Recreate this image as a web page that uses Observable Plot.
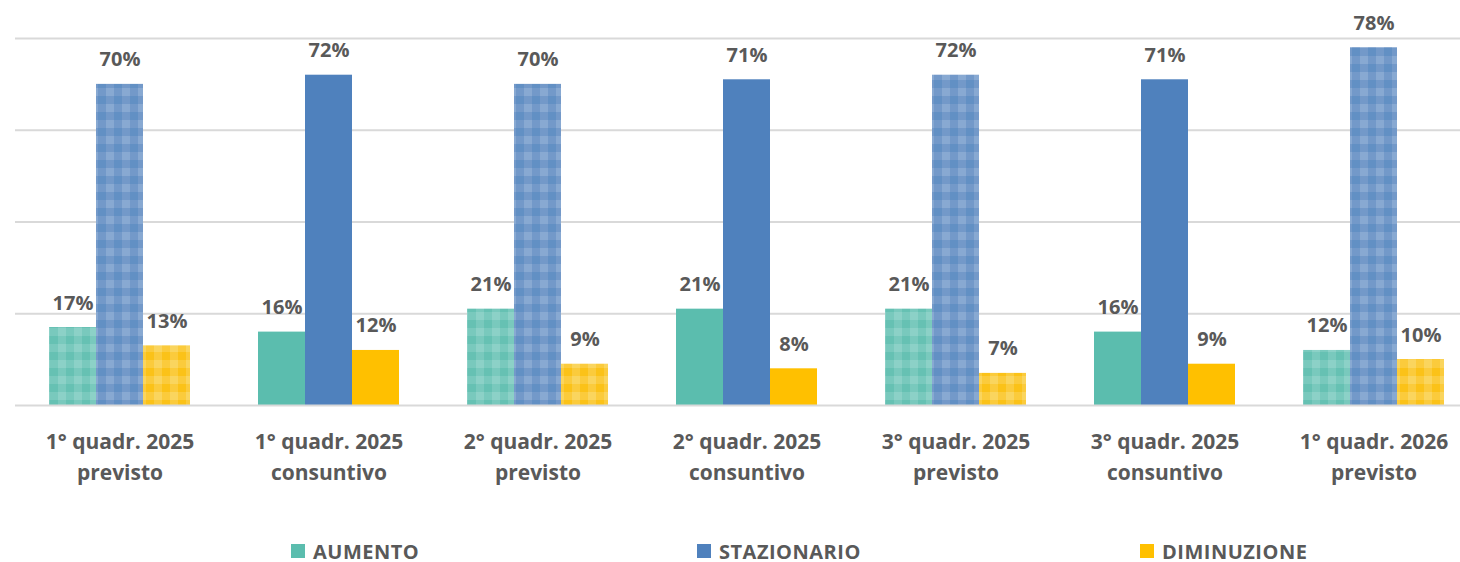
<!DOCTYPE html>
<html>
<head>
<meta charset="utf-8">
<script src="https://cdn.jsdelivr.net/npm/d3@7"></script>
<script src="https://cdn.jsdelivr.net/npm/@observablehq/plot@0.6"></script>
<style>
  html, body { margin: 0; padding: 0; background: #fff; }
  body { width: 1460px; height: 562px; overflow: hidden; font-family: "Open Sans", Lato, sans-serif; }
  #chart { width: 1480px; height: 530px; }
  #legend { position: relative; height: 32px; width: 1460px; }
  .item { position: absolute; top: 5px; height: 32px; display: flex; align-items: center; color: #595959; font-size: 20px; font-weight: bold; letter-spacing: 0.5px; }
  .sw { width: 14px; height: 14px; margin-right: 8px; }
</style>
</head>
<body>
<div id="chart"></div>
<div id="legend"></div>
<script>
const categories1 = ["1° quadr. 2025", "1° quadr. 2025", "2° quadr. 2025", "2° quadr. 2025", "3° quadr. 2025", "3° quadr. 2025", "1° quadr. 2026"];
const categories2 = ["previsto", "consuntivo", "previsto", "consuntivo", "previsto", "consuntivo", "previsto"];
const series = ["AUMENTO", "STAZIONARIO", "DIMINUZIONE"];
const aumento = [0.17, 0.16, 0.21, 0.21, 0.21, 0.16, 0.12];
const stazionario = [0.70, 0.72, 0.70, 0.71, 0.72, 0.71, 0.78];
const diminuzione = [0.13, 0.12, 0.09, 0.08, 0.07, 0.09, 0.10];
const yTicks = [0, 0.2, 0.4, 0.6, 0.8];

const solid = ["#5BBDAE", "#4F81BD", "#FFC000"];
// gingham shades: [darkest, medium, lightest]
const ging = [
  ["#66C1B3", "#79C9BD", "#8CD1C7"],
  ["#6290C4", "#7399C9", "#88A9D2"],
  ["#FBC218", "#FBCB3C", "#FAD55E"]
];

const values = [aumento, stazionario, diminuzione];
const keys = categories1.map((c, i) => c + "\n" + categories2[i]);
const rows = keys.flatMap((k, i) => series.map((s, j) => ({
  cat: k, series: s, value: values[j][i],
  fill: categories2[i] === "previsto" ? `url(#pat${j})` : solid[j]
})));

const chart = Plot.plot({
  width: 1480, height: 530,
  marginLeft: 13, marginRight: 0, marginTop: 38, marginBottom: 125,
  style: { fontFamily: "'Open Sans', Lato, sans-serif", background: "#fff" },
  fx: { domain: keys, padding: 0, label: null },
  x: { domain: series, paddingInner: 0, paddingOuter: 0.71, axis: null },
  y: { domain: [0, 0.8], axis: null },
  color: { type: "identity" },
  marks: [
    Plot.ruleY(yTicks.filter(d => d > 0), { stroke: "#d9d9d9", strokeWidth: 2 }),
    Plot.barY(rows, { fx: "cat", x: "series", y: "value", fill: "fill" }),
    Plot.ruleY([0], { stroke: "#d9d9d9", strokeWidth: 2 }),
    Plot.text(rows, {
      fx: "cat", x: "series", y: "value",
      text: d => Math.round(d.value * 100) + "%",
      lineAnchor: "bottom", dy: -18,
      fontSize: 20, fontWeight: "bold", fill: "#595959"
    }),
    Plot.axisFx({
      anchor: "bottom", tickSize: 0, tickPadding: 21, label: null,
      fontSize: 21, fontWeight: "bold", fill: "#595959", lineHeight: 1.5
    })
  ]
});

// add gingham patterns
const ns = "http://www.w3.org/2000/svg";
const defs = document.createElementNS(ns, "defs");
ging.forEach((g, j) => {
  const p = document.createElementNS(ns, "pattern");
  p.setAttribute("id", "pat" + j);
  p.setAttribute("patternUnits", "userSpaceOnUse");
  p.setAttribute("width", 16);
  p.setAttribute("height", 16);
  const cells = [[0, 0, g[0]], [8, 0, g[1]], [0, 8, g[1]], [8, 8, g[2]]];
  cells.forEach(([x, y, c]) => {
    const r = document.createElementNS(ns, "rect");
    r.setAttribute("x", x); r.setAttribute("y", y);
    r.setAttribute("width", 8); r.setAttribute("height", 8);
    r.setAttribute("fill", c);
    p.appendChild(r);
  });
  defs.appendChild(p);
});
chart.insertBefore(defs, chart.firstChild);
document.getElementById("chart").appendChild(chart);

// legend
const legendX = [291, 697, 1140];
const leg = document.getElementById("legend");
series.forEach((s, j) => {
  const it = document.createElement("div");
  it.className = "item";
  it.style.left = legendX[j] + "px";
  it.innerHTML = `<div class="sw" style="background:${solid[j]}"></div><span>${s}</span>`;
  leg.appendChild(it);
});
</script>
</body>
</html>
